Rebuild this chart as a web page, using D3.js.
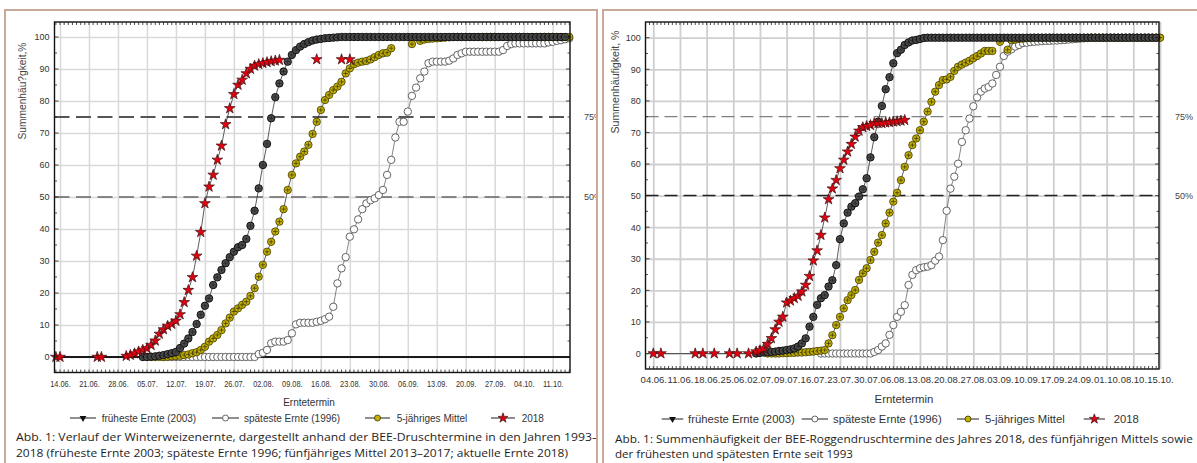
<!DOCTYPE html>
<html>
<head>
<meta charset="utf-8">
<script src="https://cdn.jsdelivr.net/npm/d3@7"></script>
<style>
  body { margin: 0; background: #fff; }
  svg { display: block; font-family: "Liberation Sans", Arial, sans-serif; }
</style>
</head>
<body>
<script>
// ---- Winterweizen (left) ----
const wheatTicks = ["14.06.","21.06.","28.06.","05.07.","12.07.","19.07.","26.07.","02.08.","09.08.",
  "16.08.","23.08.","30.08.","06.09.","13.09.","20.09.","27.09.","04.10.","11.10."];

const wheat2018Start = "13.06.";
const wheat2018 = [
  0, 0, null, null, null, null, null, null, null, null,
  0, 0, null, null, null, null, null, 0.3, 0.6, 1.1,
  1.7, 2.2, 2.7, 3.7, 5.1, 7.2, 8.6, 9.7, 10.3, 11.3,
  13.3, 17.1, 20.9, 24.9, 31.6, 39, 48, 53.2, 56.9, 61.6,
  66, 72.7, 77.7, 82.1, 85, 86.6, 88.6, 90, 91, 91.5,
  91.8, 92.1, 92.4, 92.6, 92.8, null, null, null, null, null,
  null, null, null, 93, null, null, null, null, null, 93,
  null, 93
];

const wheat2003Start = "04.07.";
const wheat2003 = [
  0, 0, 0.1, 0.2, 0.4, 0.6, 0.9, 1.2, 1.6, 2.8,
  4.2, 5.8, 7.8, 10.3, 13.2, 16, 18.3, 22.5, 24.9, 27.2,
  29.3, 31.2, 32.9, 34.3, 35, 36.9, 41, 45.7, 52.7, 60,
  66.6, 74.6, 81.2, 85.5, 89.2, 92.3, 94.4, 95.9, 97, 97.8,
  98.4, 98.9, 99.2, 99.4, 99.6, 99.7, 99.8, 99.9, 100, 100,
  100, 100, 100, 100, 100, 100, 100, 100, 100, 100,
  100, 100, 100, 100, 100, 100, 100, 100, 100, 100,
  100, 100, 100, 100, 100, 100, 100, 100, 100, 100,
  100, 100, 100, 100, 100, 100, 100, 100, 100, 100,
  100, 100, 100, 100, 100, 100, 100, 100, 100, 100,
  100, 100, 100
];

const wheatMeanStart = "06.07.";
const wheatMean = [
  0, 0, 0, 0, 0.1, 0.2, 0.3, 0.4, 0.6, 0.8,
  1.2, 1.5, 2.2, 3.2, 4.8, 5.8, 6.9, 8.4, 10.5, 12.3,
  14.2, 15.2, 16.3, 17.3, 19.1, 21.5, 25.1, 28.8, 32.9, 36,
  39.2, 42.3, 46.2, 52.2, 56.9, 60.5, 62.6, 64.2, 66.3, 69.7,
  73.5, 77.2, 80.3, 81.9, 83.4, 84.5, 86, 88.6, 90.2, 91.5,
  92, 92.3, 92.5, 93, 93.7, 94.4, 94.9, 95.1, 96.5, null,
  null, null, null, 97.8, null, 98.8, 99.2, 99.4, 99.5, 99.6,
  99.7, 99.8, 99.9, 100, 100, 100, 100, 100, 100, 100,
  100, 100, 100, 100, 100, 100, 100, 100, 100, 100,
  100, 100, 100, 100, 100, 100, 100, 100, 100, 100,
  100, 100
];

const wheat1996Start = "09.07.";
const wheat1996 = [
  0, 0, 0, 0, 0, 0, 0, 0, 0, 0,
  0, 0, 0, 0, 0, 0, 0, 0, 0, 0,
  0, 0, 0, 0.9, 1.3, 2.2, 4.3, 4.8, 4.8, 4.8,
  5.3, 7.4, 10.2, 10.7, 10.7, 10.7, 10.7, 11, 11.3, 11.8,
  12.6, 15.7, 23, 27.7, 31.2, 37.6, 39.9, 43, 46.2, 48,
  49, 49.6, 50.6, 52.2, 56.9, 61.6, 68.6, 73.5, 73.5, 76.7,
  81.6, 84.2, 87.1, 89.2, 91.8, 92.3, 92.3, 92.3, 92.3, 92.6,
  93.3, 94.4, 94.9, 95.4, 95.4, 95.4, 95.4, 95.4, 95.4, 95.4,
  95.4, 95.4, 95.9, 97.2, 97.8, 98, 98, 98, 98, 98,
  98, 98, 98, 98.3, 98.5, 98.8, 99, 99.3, 99.6
];

// ---- Roggen (right) ----
const ryeTicks = ["04.06.","11.06.","18.06.","25.06.","02.07.","09.07.","16.07.","23.07.","30.07.","06.08.",
  "13.08.","20.08.","27.08.","03.09.","10.09.","17.09.","24.09.","01.10.","08.10.","15.10."];

const rye2018Start = "04.06.";
const rye2018 = [
  0, null, 0, null, null, null, null, null, null, null,
  null, 0, null, 0, null, null, 0, null, null, null,
  0, null, 0, null, null, 0, null, 0.6, 1, 1.6,
  3, 4.8, 7.6, 10, 11.6, 16.1, 16.7, 17.5, 18.2, 19.6,
  21.7, 24.5, 29.4, 32.6, 37.5, 43, 48.8, 52.2, 54.9, 58.6,
  61.3, 63.9, 66.3, 68.6, 70.5, 71.6, 72, 72.3, 72.9, 72.9,
  72.9, 73.1, 73.2, 73.4, 73.5, 73.7, 73.9
];

const rye2003Start = "01.07.";
const rye2003 = [
  0, 0.2, 0.3, 0.4, 0.5, 0.6, 0.8, 0.9, 1.1, 1.3,
  1.6, 2.2, 3.2, 4.8, 8.5, 11.6, 15.4, 17.5, 18.5, 21.2,
  23.2, 28, 36.2, 41.2, 44.6, 46.5, 47.6, 49.7, 52, 55.5,
  62.1, 68.5, 73.4, 78.4, 83.7, 87.5, 91.9, 95.1, 96.2, 97.7,
  98.5, 99.1, 99.3, 99.6, 99.9, 100, 100, 100, 100, 100,
  100, 100, 100, 100, 100, 100, 100, 100, 100, 100,
  100, 100, 100, 100, 100, 100, 100, 100, 100, 100,
  100, 100, 100, 100, 100, 100, 100, 100, 100, 100,
  100, 100, 100, 100, 100, 100, 100, 100, 100, 100,
  100, 100, 100, 100, 100, 100, 100, 100, 100, 100,
  100, 100, 100, 100, 100, 100
];

const ryeMeanStart = "04.07.";
const ryeMean = [
  0, 0, 0, 0, 0.1, 0.1, 0.2, 0.2, 0.3, 0.3,
  0.4, 0.5, 0.6, 0.8, 0.9, 1.1, 3.2, 5.8, 9, 11.6,
  14.3, 16.9, 18.5, 20.1, 23.3, 25.4, 27, 29.6, 32.2, 35.1,
  37.5, 41.2, 44.6, 48.1, 50.9, 54.9, 59.1, 62.8, 66, 68.1,
  70.7, 73.4, 76.6, 79.7, 82.9, 85, 86.6, 86.8, 87.6, 89.5,
  90.8, 91.5, 92.1, 92.7, 93.5, 94.2, 95, 95.8, 95.8, 95.8,
  null, 98.7, null, 96.2, 99.2, 99.4, 99.6, 99.7, 99.8, 99.9,
  100, 100, 100, 100, 100, 100, 100, 100, 100, 100,
  100, 100, 100, 100, 100, 100, 100, 100, 100, 100,
  100, 100, 100, 100, 100, 100, 100, 100, 100, 100,
  100, 100, 100, 100
];

const rye1996Start = "18.07.";
const rye1996 = [
  0, 0, 0, 0, 0, 0, 0, 0, 0, 0,
  0, 0, 0, 0, 0.5, 1.1, 2.2, 3.2, 5.9, 9,
  11.6, 13.2, 15.3, 21.7, 24.9, 26.4, 27, 27.3, 27.5, 28,
  29.4, 30.7, 35.9, 45.2, 52.2, 56, 60.1, 67, 70.7, 74.4,
  78.3, 81.1, 82.9, 83.9, 84.4, 85.5, 88.2, 90.8, 94.2, 95.6,
  96.3, 97.2, 97.7, 98.3, 98.4, 98.6, 98.7, 98.8, 98.9, 99,
  99, 99.1, 99.1, 99.2, 99.3, 99.4, 99.5, 99.6, 99.7, 99.8,
  99.9, 100, 100, 100, 100, 100, 100, 100, 100, 100,
  100, 100, 100, 100, 100, 100, 100, 100, 100, 100
];

const yTicks = [0, 10, 20, 30, 40, 50, 60, 70, 80, 90, 100];
const refLines = [75, 50];
const legendNames = ["früheste Ernte (2003)", "späteste Ernte (1996)", "5-jähriges Mittel", "2018"];

const wheatCaption = [
  "Abb. 1: Verlauf der Winterweizenernte, dargestellt anhand der BEE-Druschtermine in den Jahren 1993–",
  "2018 (früheste Ernte 2003; späteste Ernte 1996; fünfjähriges Mittel 2013–2017; aktuelle Ernte 2018)"
];
const ryeCaption = [
  "Abb. 1: Summenhäufigkeit der BEE-Roggendruschtermine des Jahres 2018, des fünfjährigen Mittels sowie",
  "der frühesten und spätesten Ernte seit 1993"
];

const parseDay = d3.timeParse("%d.%m.%Y");
const day = s => parseDay(s + "2018");

const svg = d3.select("body").append("svg")
  .attr("width", 1197)
  .attr("height", 463);

const colors = {
  black: { fill: "#4d4d4d", stroke: "#111", sw: 1 },
  white: { fill: "#fff", stroke: "#555", sw: 0.9 },
  olive: { fill: "#c6b200", stroke: "#3d3700", sw: 0.8 }
};

function addMarker(sel, kind, small) {
  if (kind === "red") {
    sel.append("path")
      .attr("d", d3.symbol(d3.symbolStar, small ? 30 : 36)())
      .attr("fill", "#e3000f")
      .attr("stroke", "#3a1212")
      .attr("stroke-width", 0.7);
    return;
  }
  if (small && kind === "black") {
    sel.append("path")
      .attr("d", d3.symbol(d3.symbolTriangle, 20)())
      .attr("transform", "rotate(180)")
      .attr("fill", "#111");
    return;
  }
  let c = colors[kind];
  sel.append("circle")
    .attr("r", small ? 3 : 3.7)
    .attr("fill", c.fill)
    .attr("stroke", c.stroke)
    .attr("stroke-width", c.sw);
  if (!small && kind !== "white") {
    sel.append("path")
      .attr("d", "M-2.3,0H2.3M0,-2.3V2.3")
      .attr("stroke", "#1e1e1e")
      .attr("stroke-width", 0.6);
  }
}

function drawPanel(p) {
  svg.append("clipPath").attr("id", p.id)
    .append("rect")
    .attr("x", p.frame[0]).attr("y", p.frame[1])
    .attr("width", p.frame[2]).attr("height", p.frame[3]);

  let g = svg.append("g").attr("clip-path", `url(#${p.id})`);
  let pl = p.plot;

  let tickDates = p.ticks.map(day);
  let x = d3.scaleTime()
    .domain([tickDates[0], tickDates[tickDates.length - 1]])
    .range(p.xRange);
  let y = d3.scaleLinear().domain([0, 100]).range(p.yRange);

  // grid
  g.append("g")
    .attr("transform", `translate(0,${pl.bottom})`)
    .call(d3.axisBottom(x).tickValues(tickDates).tickSize(-(pl.bottom - pl.top)).tickFormat(""))
    .call(a => a.select(".domain").remove())
    .selectAll("line")
    .attr("stroke", p.grid).attr("stroke-width", p.gridW);
  g.append("g")
    .attr("transform", `translate(${pl.left},0)`)
    .call(d3.axisLeft(y).tickValues(yTicks).tickSize(-(pl.right - pl.left)).tickFormat(""))
    .call(a => a.select(".domain").remove())
    .selectAll("line")
    .attr("stroke", p.grid).attr("stroke-width", p.gridW);

  // 75% / 50% lines
  refLines.forEach((v, i) => {
    g.append("line")
      .attr("x1", pl.left).attr("x2", pl.right)
      .attr("y1", y(v)).attr("y2", y(v))
      .attr("stroke", p.dash[i].color)
      .attr("stroke-width", p.dash[i].w)
      .attr("stroke-dasharray", p.dash[i].da);
    g.append("text")
      .attr("x", p.pctX).attr("y", y(v) + 3.2)
      .attr("text-anchor", p.pctAnchor)
      .attr("font-size", p.pctFont)
      .attr("fill", "#444")
      .text(v + "%");
  });

  if (p.zeroLine) {
    g.append("line")
      .attr("x1", pl.left).attr("x2", pl.right)
      .attr("y1", y(0)).attr("y2", y(0))
      .attr("stroke", "#1a1a1a").attr("stroke-width", 2);
  }

  // series
  p.series.forEach(s => {
    let start = day(s.start);
    let pts = s.values.map((v, i) => ({ date: d3.timeDay.offset(start, i), v: v }));
    let defined = pts.filter(d => d.v != null);
    let line = d3.line()
      .defined(d => d.v != null)
      .x(d => x(d.date))
      .y(d => y(d.v));
    g.append("path")
      .datum(s.join ? defined : pts)
      .attr("d", line)
      .attr("fill", "none")
      .attr("stroke", s.kind === "white" ? "#666" : "#333")
      .attr("stroke-width", 0.8);
    let m = g.append("g").selectAll("g")
      .data(defined)
      .join("g")
      .attr("transform", d => `translate(${x(d.date)},${y(d.v)})`);
    addMarker(m, s.kind, false);
  });

  // plot frame and ticks
  g.append("rect")
    .attr("x", pl.left).attr("y", pl.top)
    .attr("width", pl.right - pl.left).attr("height", pl.bottom - pl.top)
    .attr("fill", "none").attr("stroke", "#111").attr("stroke-width", 1.4);

  let days = d3.timeDay.range(x.invert(pl.left), x.invert(pl.right));
  let tk = g.append("g").attr("stroke", "#222").attr("stroke-width", 0.8);
  tk.selectAll(".tt").data(days).join("line")
    .attr("x1", d => x(d)).attr("x2", d => x(d))
    .attr("y1", pl.top).attr("y2", pl.top + 3);
  tk.selectAll(".tb").data(days).join("line")
    .attr("x1", d => x(d)).attr("x2", d => x(d))
    .attr("y1", pl.bottom).attr("y2", pl.bottom - 3);
  let fives = d3.range(0, 101, 5);
  tk.selectAll(".yl").data(fives).join("line")
    .attr("x1", pl.left).attr("x2", d => pl.left + (d % 10 ? 2.5 : 4))
    .attr("y1", d => y(d)).attr("y2", d => y(d));
  tk.selectAll(".yr").data(fives).join("line")
    .attr("x1", pl.right).attr("x2", d => pl.right - (d % 10 ? 2.5 : 4))
    .attr("y1", d => y(d)).attr("y2", d => y(d));

  // axis labels
  let xa = g.append("g")
    .attr("transform", `translate(0,${pl.bottom})`)
    .call(d3.axisBottom(x).tickValues(tickDates).tickSize(0).tickPadding(p.xPad)
      .tickFormat(d3.timeFormat("%d.%m.")));
  xa.select(".domain").remove();
  xa.attr("font-family", null).attr("font-size", null);
  xa.selectAll("text")
    .attr("font-size", p.xFont)
    .attr("fill", "#333");
  if (p.xLen) {
    xa.selectAll("text")
      .attr("textLength", p.xLen)
      .attr("lengthAdjust", "spacingAndGlyphs")
      .attr("x", -p.xLen / 2)
      .attr("text-anchor", "start");
  }

  let ya = g.append("g")
    .attr("transform", `translate(${pl.left},0)`)
    .call(d3.axisLeft(y).tickValues(yTicks).tickSize(0).tickPadding(p.yPad));
  ya.select(".domain").remove();
  ya.attr("font-family", null).attr("font-size", null);
  ya.selectAll("text").attr("font-size", p.yFont).attr("fill", "#333");

  g.append("text")
    .attr("x", p.xTitle[0]).attr("y", p.xTitle[1])
    .attr("text-anchor", "middle")
    .attr("font-size", p.xTitle[2])
    .attr("fill", "#333")
    .text("Erntetermin");

  g.append("text")
    .attr("transform", `translate(${p.yTitle[0]},${p.yTitle[1]}) rotate(-90)`)
    .attr("text-anchor", "middle")
    .attr("font-size", p.yTitle[2])
    .attr("fill", "#444")
    .text(p.yTitleText);

  // legend
  let kinds = ["black", "white", "olive", "red"];
  p.legend.forEach((L, i) => {
    let lg = g.append("g");
    lg.append("line")
      .attr("x1", L[0]).attr("x2", L[1])
      .attr("y1", p.legendY).attr("y2", p.legendY)
      .attr("stroke", "#333").attr("stroke-width", 1.1);
    let mk = lg.append("g").attr("transform", `translate(${(L[0] + L[1]) / 2},${p.legendY})`);
    addMarker(mk, kinds[i], true);
    lg.append("text")
      .attr("x", L[2]).attr("y", p.legendY + p.legendFont * 0.35)
      .attr("font-size", p.legendFont)
      .attr("fill", "#333")
      .text(legendNames[i]);
  });

  // caption
  p.caption.forEach((c, i) => {
    g.append("text")
      .attr("x", p.capX).attr("y", p.capY[i])
      .style("font-family", "'Open Sans', 'Noto Sans', sans-serif")
      .attr("font-size", 11.5)
      .attr("fill", "#1e1e1e")
      .attr("textLength", p.capLen[i])
      .attr("lengthAdjust", "spacingAndGlyphs")
      .text(c);
  });

  svg.append("rect")
    .attr("x", p.frame[0]).attr("y", p.frame[1])
    .attr("width", p.frame[2]).attr("height", p.frame[3])
    .attr("fill", "none").attr("stroke", "#c8aa9b").attr("stroke-width", 2);
}

drawPanel({
  id: "clipWheat",
  frame: [5, 10, 592, 470],
  plot: { left: 54.5, right: 570, top: 22, bottom: 372.5 },
  ticks: wheatTicks, xRange: [60, 552.7], yRange: [357, 37],
  grid: "#d9d9d9", gridW: 1.5,
  dash: [{ color: "#555", w: 1.8, da: "15,6.5" }, { color: "#666", w: 1.6, da: "15,6.5" }],
  pctX: 584, pctAnchor: "start", pctFont: 9,
  zeroLine: true,
  series: [
    { kind: "white", start: wheat1996Start, values: wheat1996 },
    { kind: "olive", start: wheatMeanStart, values: wheatMean },
    { kind: "black", start: wheat2003Start, values: wheat2003 },
    { kind: "red", start: wheat2018Start, values: wheat2018, join: false }
  ],
  xPad: 7.4, xFont: 9.5, xLen: 20.5,
  yPad: 5, yFont: 9,
  xTitle: [309, 405.5, 10],
  yTitle: [25.5, 91, 10.2], yTitleText: "Summenhäu?gkeit,%",
  legendY: 418, legendFont: 10,
  legend: [[70, 96, 101.7], [212, 239, 244], [365, 390, 396.7], [491, 515, 521.7]],
  caption: wheatCaption, capX: 16, capY: [441, 456.5], capLen: [582, 552]
});

drawPanel({
  id: "clipRye",
  frame: [603, 10, 600, 470],
  plot: { left: 645.5, right: 1159, top: 22, bottom: 369 },
  ticks: ryeTicks, xRange: [653.3, 1160], yRange: [353.5, 37.7],
  grid: "#cfcfcf", gridW: 1.8,
  dash: [{ color: "#808080", w: 1.3, da: "13,6" }, { color: "#222", w: 1.5, da: "13,6" }],
  pctX: 1184, pctAnchor: "middle", pctFont: 9,
  zeroLine: false,
  series: [
    { kind: "white", start: rye1996Start, values: rye1996 },
    { kind: "olive", start: ryeMeanStart, values: ryeMean },
    { kind: "black", start: rye2003Start, values: rye2003 },
    { kind: "red", start: rye2018Start, values: rye2018, join: true }
  ],
  xPad: 6.8, xFont: 9.5, xLen: null,
  yPad: 4.8, yFont: 9,
  xTitle: [904, 402.5, 11.4],
  yTitle: [619, 82, 10.6], yTitleText: "Summenhäufigkeit, %",
  legendY: 419, legendFont: 11.3,
  legend: [[661.7, 683.3, 688], [801.7, 828, 833], [957, 979, 985], [1083.7, 1105, 1113.7]],
  caption: ryeCaption, capX: 615, capY: [443, 457.5], capLen: [578, 238]
});
</script>
</body>
</html>
